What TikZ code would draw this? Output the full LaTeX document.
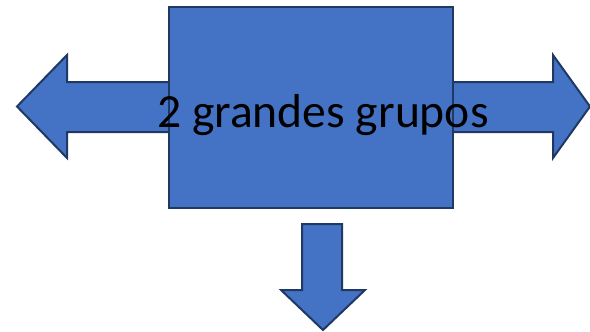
\documentclass[tikz,border=0pt]{standalone}
\usepackage{fontspec}
\setmainfont{Carlito}
\begin{document}
\begin{tikzpicture}[x=1pt,y=-1pt,
  blockshape/.style={fill=shapeblue,draw=shapeedge,line width=2pt,line join=miter},
  label/.style={font=\fontsize{47.6}{52}\selectfont,text=black,inner sep=0pt,anchor=base west}]
\definecolor{shapeblue}{HTML}{4472C4}
\definecolor{shapeedge}{HTML}{1F3864}
\useasboundingbox (0,0) rectangle (590,332);
% horizontal double-headed arrow
\draw[blockshape] (17,106.5) -- (67,55) -- (67,82) -- (553,82) -- (553,55)
  -- (590,106.5) -- (553,158) -- (553,132) -- (67,132) -- (67,158) -- cycle;
% central block
\node[blockshape,minimum width=284pt,minimum height=201pt,inner sep=0pt,anchor=north west] (block) at (168,6) {};
% downward arrow
\draw[blockshape] (302,224) -- (342,224) -- (342,290) -- (365,290) -- (323,330)
  -- (281,290) -- (302,290) -- cycle;
\node[label] (title) at (157,127) {2 grandes grupos};
\end{tikzpicture}
\end{document}
